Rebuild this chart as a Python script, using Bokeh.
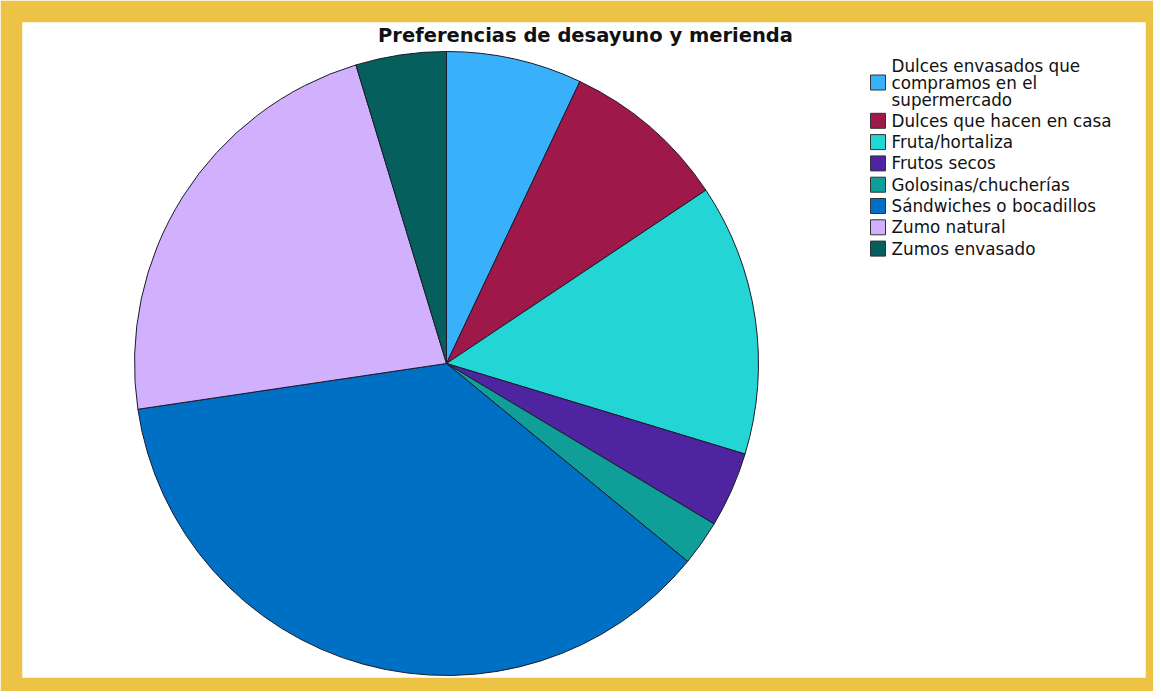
import numpy as np
from bokeh.plotting import figure
from bokeh.models import Range1d, ColumnDataSource
from bokeh.core.properties import value
from bokeh.embed import file_html
from bokeh.resources import INLINE

title_text = "Preferencias de desayuno y merienda"
categories = [
    "Dulces envasados que\ncompramos en el\nsupermercado",
    "Dulces que hacen en casa",
    "Fruta/hortaliza",
    "Frutos secos",
    "Golosinas/chucherías",
    "Sándwiches o bocadillos",
    "Zumo natural",
    "Zumos envasado",
]
counts = [9, 11, 18, 5, 3, 47, 29, 6]
colors = ["#38B0FA", "#9E1849", "#24D5D5", "#4F24A0", "#0F9E98",
          "#0070C4", "#D1B1FE", "#05605D"]

W, H = 1153, 691
BL, BT, BR, BB = 22, 22, 8, 14
FW, FH = W - BL - BR, H - BT - BB

p = figure(width=W, height=H, output_backend="svg", toolbar_location=None,
           x_range=Range1d(0, FW), y_range=Range1d(0, FH),
           min_border_left=BL, min_border_top=BT, min_border_right=BR,
           min_border_bottom=BB, border_fill_color="#ECC345",
           background_fill_color="white", outline_line_color=None)
p.axis.visible = False
p.grid.visible = False

# pie
cx, cy, r = 424, 314, 312
vals = np.array(counts, dtype=float)
frac = vals / vals.sum()
ends = np.cumsum(frac) * 2 * np.pi
starts = np.concatenate([[0], ends[:-1]])
src = ColumnDataSource(dict(
    start=np.pi / 2 - starts, end=np.pi / 2 - ends, color=colors))
p.wedge(x=cx, y=cy, radius=r, start_angle="start", end_angle="end",
        direction="clock", fill_color="color", line_color="#1b1b2b",
        line_width=1, source=src)

# title
p.text(x=[563], y=[642], text=[title_text], text_align="center",
       text_baseline="middle", text_font=value("DejaVu Sans"),
       text_font_style="bold", text_font_size="19.5px", text_color="#111111")

# legend
sw_x, tx = 855.5, 869
line_h = 17
row_h = 21.3
y_top = 685 - 73
sw_xs, sw_ys, t_xs, t_ys, t_txt = [], [], [], [], []
y = y_top
for cat in categories:
    lines = cat.split("\n")
    ys = [y - i * line_h for i in range(len(lines))]
    sw_xs.append(sw_x)
    sw_ys.append((ys[0] + ys[-1]) / 2)
    for ln, yy in zip(lines, ys):
        t_xs.append(tx); t_ys.append(yy); t_txt.append(ln)
    y = ys[-1] - row_h
p.rect(x=sw_xs, y=sw_ys, width=15, height=15, fill_color=colors,
       line_color="#333333", line_width=1)
p.text(x=t_xs, y=t_ys, text=t_txt, text_align="left", text_baseline="middle",
       text_font=value("DejaVu Sans"), text_font_size="16.8px",
       text_color="#111111")

open("out.html", "w").write(file_html(p, INLINE))
